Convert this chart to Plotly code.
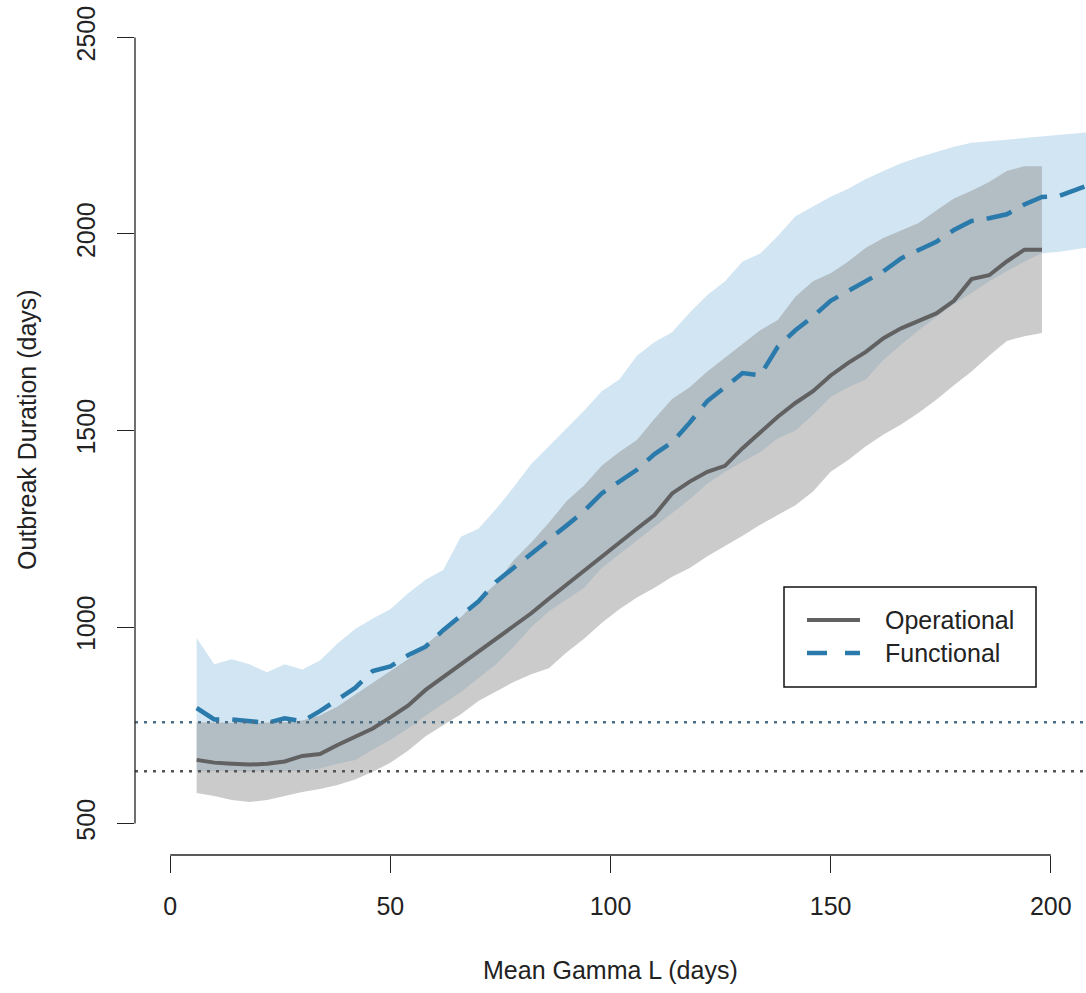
import plotly.graph_objects as go

# ---------------- data ----------------
op_x = [6, 10, 14, 18, 22, 26, 30, 34, 38, 42, 46, 50, 54, 58, 62, 66, 70, 74, 78, 82,
        86, 90, 94, 98, 102, 106, 110, 114, 118, 122, 126, 130, 134, 138, 142, 146, 150,
        154, 158, 162, 166, 170, 174, 178, 182, 186, 190, 194, 198]
op_mean = [662, 655, 652, 650, 652, 658, 672, 677, 700, 722, 742, 770, 800, 840, 872, 905,
           938, 968, 1000, 1035, 1072, 1108, 1145, 1180, 1215, 1250, 1285, 1340, 1370, 1395,
           1410, 1455, 1495, 1535, 1570, 1600, 1640, 1672, 1700, 1735, 1760, 1778, 1798,
           1830, 1885, 1895, 1930, 1960, 1960]
op_hi = [758, 757, 756, 756, 757, 758, 762, 775, 798, 828, 858, 890, 918, 955, 992, 1025,
         1070, 1110, 1170, 1215, 1265, 1320, 1360, 1410, 1445, 1476, 1530, 1580, 1610, 1650,
         1685, 1720, 1755, 1781, 1840, 1880, 1900, 1930, 1965, 1990, 2010, 2028, 2060, 2090,
         2110, 2132, 2160, 2172, 2172]
op_lo = [578, 570, 560, 555, 560, 570, 580, 588, 598, 612, 632, 655, 685, 722, 750, 778,
         812, 835, 860, 880, 895, 935, 970, 1010, 1045, 1075, 1100, 1128, 1150, 1180, 1205,
         1232, 1260, 1285, 1310, 1345, 1395, 1425, 1460, 1490, 1515, 1545, 1578, 1615, 1650,
         1690, 1728, 1740, 1748]

fn_x = [6, 10, 14, 18, 22, 26, 30, 34, 38, 42, 46, 50, 54, 58, 62, 66, 70, 74, 78, 82,
        86, 90, 94, 98, 102, 106, 110, 114, 118, 122, 126, 130, 134, 138, 142, 146, 150,
        154, 158, 162, 166, 170, 174, 178, 182, 186, 190, 194, 198, 202, 206, 210]
fn_mean = [794, 765, 765, 760, 756, 768, 760, 786, 815, 845, 888, 900, 928, 950, 992, 1030,
           1065, 1115, 1150, 1185, 1220, 1258, 1295, 1340, 1370, 1400, 1440, 1470, 1520,
           1575, 1610, 1646, 1640, 1713, 1755, 1790, 1830, 1855, 1878, 1905, 1938, 1960,
           1980, 2010, 2033, 2040, 2050, 2075, 2094, 2097, 2115, 2130]
fn_hi = [972, 905, 918, 905, 885, 905, 892, 915, 958, 995, 1022, 1045, 1085, 1120, 1145,
         1230, 1250, 1300, 1356, 1415, 1460, 1505, 1550, 1600, 1630, 1690, 1725, 1750, 1800,
         1845, 1880, 1930, 1950, 1995, 2045, 2070, 2095, 2115, 2140, 2160, 2180, 2195, 2208,
         2222, 2232, 2236, 2240, 2244, 2248, 2252, 2256, 2260]
fn_lo = [633, 633, 633, 632, 633, 633, 635, 640, 652, 662, 688, 713, 742, 775, 805, 835,
         870, 905, 950, 1000, 1040, 1070, 1100, 1150, 1185, 1220, 1255, 1290, 1325, 1365,
         1395, 1420, 1445, 1480, 1500, 1540, 1585, 1610, 1630, 1680, 1718, 1755, 1789, 1822,
         1850, 1880, 1905, 1930, 1951, 1955, 1962, 1968]

ref_lines = [758, 633]
ref_colors = ["#4d6f86", "#555555"]

x_ticks = [0, 50, 100, 150, 200]
y_ticks = [500, 1000, 1500, 2000, 2500]
x_title = "Mean Gamma L (days)"
y_title = "Outbreak Duration (days)"
legend_names = ["Operational", "Functional"]

# ---------------- styles ----------------
FONT = "Liberation Sans, Arial, sans-serif"
TXT = "#222222"
BLUE_BAND = "rgb(210,229,242)"
GRAY_BAND = "rgba(140,140,140,0.45)"
OP_COL = "#616161"
FN_COL = "#2a7aab"
FS = 25

fig = go.Figure()

fig.add_trace(go.Scatter(
    x=fn_x + fn_x[::-1], y=fn_hi + fn_lo[::-1], fill="toself",
    fillcolor=BLUE_BAND, line=dict(width=0), mode="lines", hoverinfo="skip",
    showlegend=False))
fig.add_trace(go.Scatter(
    x=op_x + op_x[::-1], y=op_hi + op_lo[::-1], fill="toself",
    fillcolor=GRAY_BAND, line=dict(width=0), mode="lines", hoverinfo="skip",
    showlegend=False))

for val, col in zip(ref_lines, ref_colors):
    fig.add_shape(type="line", xref="paper", yref="y", x0=0, x1=1, y0=val, y1=val,
                  line=dict(color=col, width=2.5, dash="3px,6px"))

fig.add_trace(go.Scatter(x=fn_x, y=fn_mean, mode="lines", showlegend=False,
                         line=dict(color=FN_COL, width=4.5, dash="26px,13px")))
fig.add_trace(go.Scatter(x=op_x, y=op_mean, mode="lines", showlegend=False,
                         line=dict(color=OP_COL, width=4)))

# axis lines (R style: only between outer ticks)
fig.add_shape(type="line", xref="x", yref="paper", x0=x_ticks[0], x1=x_ticks[-1],
              y0=0, y1=0, line=dict(color=TXT, width=1.3))
fig.add_shape(type="line", xref="paper", yref="y", x0=0, x1=0,
              y0=y_ticks[0], y1=y_ticks[-1], line=dict(color=TXT, width=1.3))

# legend box
L, R, T, B = 784, 1036, 587, 687
def px(xp):
    return (xp - 135) / 951.0
def py(yp):
    return (855 - yp) / 849.0
fig.add_shape(type="rect", xref="paper", yref="paper", x0=px(L), x1=px(R),
              y0=py(B), y1=py(T), line=dict(color="#111111", width=1.5),
              fillcolor="white", layer="above")
fig.add_shape(type="line", xref="paper", yref="paper", x0=px(807), x1=px(860),
              y0=py(620), y1=py(620), line=dict(color=OP_COL, width=4), layer="above")
fig.add_shape(type="line", xref="paper", yref="paper", x0=px(807), x1=px(860),
              y0=py(653), y1=py(653), line=dict(color=FN_COL, width=4.5, dash="20px,18px"),
              layer="above")
for name, yy in zip(legend_names, [620, 653]):
    fig.add_annotation(text=name, xref="paper", yref="paper", x=px(883), y=py(yy),
                       xanchor="left", yanchor="middle", showarrow=False,
                       font=dict(family=FONT, size=FS, color=TXT))

# titles
fig.add_annotation(text=x_title, xref="paper", yref="paper", x=px(610), y=py(970),
                   xanchor="center", yanchor="middle", showarrow=False,
                   font=dict(family=FONT, size=FS, color=TXT))
fig.add_annotation(text=y_title, xref="paper", yref="paper", x=px(27), y=py(430),
                   xanchor="center", yanchor="middle", showarrow=False, textangle=-90,
                   font=dict(family=FONT, size=FS, color=TXT))

fig.update_layout(
    width=1086, height=993,
    margin=dict(l=135, r=0, t=6, b=138),
    plot_bgcolor="white", paper_bgcolor="white",
    showlegend=False,
    font=dict(family=FONT, size=FS, color=TXT),
)
fig.update_xaxes(range=[-8, 208], showgrid=False, zeroline=False, showline=False,
                 tickmode="array", tickvals=x_ticks, ticks="outside", ticklen=17,
                 tickwidth=1.3, tickcolor=TXT, ticklabelstandoff=12,
                 tickfont=dict(family=FONT, size=FS, color=TXT))
fig.update_yaxes(range=[420, 2580], showgrid=False, zeroline=False, showline=False,
                 tickmode="array", tickvals=y_ticks, ticks="outside", ticklen=17,
                 tickwidth=1.3, tickcolor=TXT, tickangle=-90, ticklabelstandoff=12,
                 tickfont=dict(family=FONT, size=FS, color=TXT))

fig.write_html("out.html")
